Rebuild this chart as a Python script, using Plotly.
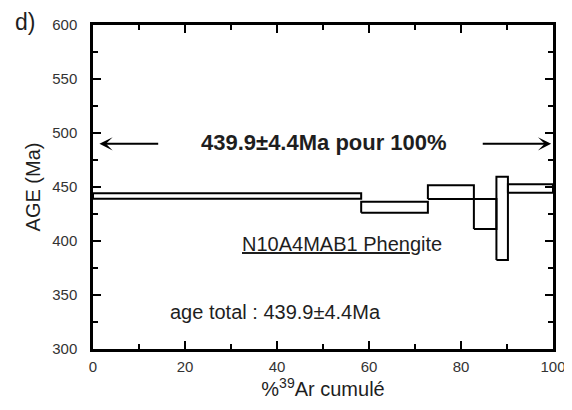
import plotly.graph_objects as go

# Step boundaries (% 39Ar cumulé) and age envelopes (Ma)
step_start = [0.0, 58.3, 72.8, 82.8, 87.7, 90.2]
step_end = [58.3, 72.8, 82.8, 87.7, 90.2, 100.0]
age_low = [439.2, 426.2, 438.8, 411.1, 382.4, 444.7]
age_high = [444.2, 436.4, 451.6, 438.8, 459.5, 452.5]

x_ticks = [0, 20, 40, 60, 80, 100]
y_ticks = [300, 350, 400, 450, 500, 550, 600]

plateau_text = "<b>439.9±4.4Ma pour 100%</b>"
sample_text = "<u>N10A4MAB1 Phen</u>gite"
total_text = "age total : 439.9±4.4Ma"

FONT = "Liberation Sans, Arial, sans-serif"
TXT = "#1e1e1e"

fig = go.Figure()
for x0, x1, lo, hi in zip(step_start, step_end, age_low, age_high):
    fig.add_trace(go.Scatter(
        x=[x0, x1, x1, x0, x0], y=[lo, lo, hi, hi, lo],
        mode="lines", line=dict(color="black", width=2),
        showlegend=False, hoverinfo="skip"))

axis_common = dict(
    showline=True, linecolor="black", linewidth=2.5, mirror="allticks",
    ticks="inside", ticklen=8, tickwidth=2, tickcolor="black",
    showgrid=False, zeroline=False, automargin=False,
    tickfont=dict(family=FONT, size=15, color="#333333"),
)

fig.update_xaxes(
    range=[0, 100], tickvals=x_ticks,
    minor=dict(dtick=10, ticks="inside", ticklen=5, tickwidth=2, tickcolor="black"),
    title=dict(text="%<sup>39</sup>Ar cumulé", font=dict(family=FONT, size=20, color=TXT), standoff=6),
    ticklabelstandoff=2,
    **axis_common)
fig.update_yaxes(
    range=[300, 600], tickvals=y_ticks,
    minor=dict(dtick=25, ticks="inside", ticklen=5, tickwidth=2, tickcolor="black"),
    title=dict(text="AGE (Ma)", font=dict(family=FONT, size=20, color=TXT), standoff=7),
    ticklabelstandoff=10,
    **axis_common)

# plateau arrows
fig.add_annotation(x=1.4, y=490, ax=14.5, ay=490, xref="x", yref="y", axref="x", ayref="y",
                   showarrow=True, arrowhead=3, arrowsize=1.1, arrowwidth=2, arrowcolor="black", text="")
fig.add_annotation(x=99.6, y=490, ax=84.4, ay=490, xref="x", yref="y", axref="x", ayref="y",
                   showarrow=True, arrowhead=3, arrowsize=1.1, arrowwidth=2, arrowcolor="black", text="")

fig.add_annotation(x=50.2, y=491, xref="x", yref="y", text=plateau_text, showarrow=False,
                   font=dict(family=FONT, size=22, color=TXT))
fig.add_annotation(x=54.1, y=397, xref="x", yref="y", text=sample_text, showarrow=False,
                   font=dict(family=FONT, size=20, color=TXT))
fig.add_annotation(x=39.7, y=334, xref="x", yref="y", text=total_text, showarrow=False,
                   font=dict(family=FONT, size=20, color=TXT))
fig.add_annotation(x=-0.148, y=1.0525, xref="paper", yref="paper", text="d)", showarrow=False,
                   xanchor="center", yanchor="top", borderpad=0,
                   font=dict(family=FONT, size=23, color=TXT))

# page body adds an 8px margin; size and margins compensate so the plot box
# lands where it is in the reference
fig.update_layout(
    width=564, height=402,
    margin=dict(l=85, r=19, t=17, b=61),
    paper_bgcolor="white", plot_bgcolor="white",
)

fig.write_html("out.html")
